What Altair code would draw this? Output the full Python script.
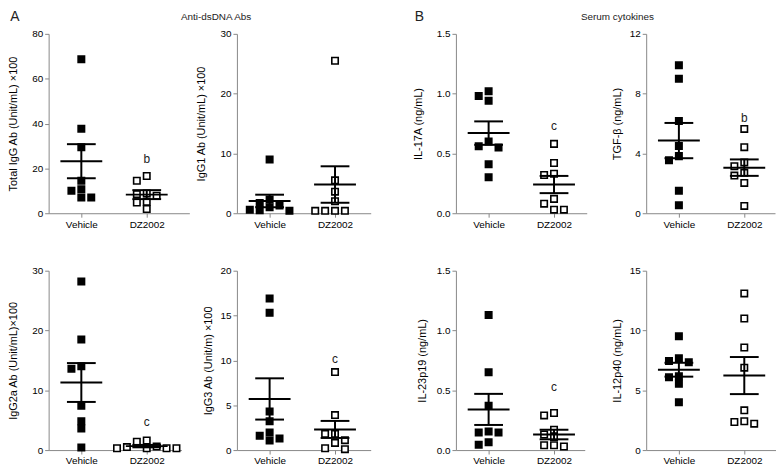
import altair as alt
import pandas as pd
import numpy as np

groups = ["Vehicle", "DZ2002"]

y_titles = ["Total IgG Ab (Unit/mL) ×100", "IgG1 Ab (Unit/mL) ×100",
            "IL-17A (ng/mL)", "TGF-β (ng/mL)",
            "IgG2a Ab (Unit/mL)×100", "IgG3 Ab (Unit/m) ×100",
            "IL-23p19 (ng/mL)", "IL-12p40 (ng/mL)"]
y_max = [80, 30, 1.5, 12, 30, 20, 1.5, 15]
y_step = [20, 10, 0.5, 4, 10, 5, 0.5, 5]

vehicle_vals = [
    [68.7, 37.7, 29.4, 14.5, 10.7, 10.0, 7.0, 7.0],
    [9.0, 2.3, 1.7, 1.3, 1.0, 0.6, 0.5, 0.4],
    [1.02, 0.98, 0.94, 0.60, 0.56, 0.55, 0.41, 0.30],
    [9.9, 9.0, 6.17, 4.49, 3.82, 3.54, 1.5, 0.53],
    [28.2, 18.5, 14.0, 13.6, 7.4, 4.8, 3.6, 0.44],
    [16.9, 15.3, 4.3, 3.2, 1.97, 1.6, 1.3, 1.06],
    [1.13, 0.65, 0.37, 0.155, 0.147, 0.147, 0.066, 0.044],
    [9.52, 7.67, 7.45, 7.34, 6.17, 6.09, 5.54, 3.99],
]
dz_vals = [
    [16.6, 14.5, 8.8, 8.5, 7.8, 5.1, 4.8, 1.9],
    [25.5, 5.5, 3.6, 2.0, 0.4, 0.4, 0.4, 0.4],
    [0.58, 0.42, 0.33, 0.32, 0.12, 0.08, 0.03, 0.03],
    [5.64, 4.42, 3.4, 3.14, 2.7, 2.52, 2.03, 0.49],
    [1.6, 1.4, 0.6, 0.5, 0.3, 0.3, 0.3, 0.3],
    [8.7, 3.9, 1.8, 1.8, 1.1, 0.8, 0.2, 0.1],
    [0.31, 0.29, 0.17, 0.13, 0.11, 0.04, 0.04, 0.03],
    [13.1, 11.0, 8.58, 6.89, 3.32, 2.41, 2.35, 2.21],
]
group_means = [
    [23.2, 8.3], [2.05, 4.8], [0.67, 0.24], [4.86, 3.05],
    [11.3, 0.66], [5.7, 2.3], [0.34, 0.13], [6.72, 6.23],
]
group_sems = [
    [7.6, 2.0], [1.05, 3.05], [0.098, 0.072], [1.18, 0.55],
    [3.25, 0.2], [2.3, 0.95], [0.13, 0.04], [0.58, 1.55],
]
sig_letters = ["b", "", "c", "b", "c", "c", "c", ""]
sig_y = [24.2, 0, 0.73, 6.4, 4.7, 10.2, 0.525, 0]

section_labels = ["A", "B"]
section_titles = ["Anti-dsDNA Abs", "Serum cytokines"]

# ---- layout / style ----
FONT = "Liberation Sans"
H = 181
PX_UNIT = 66.0
LEFT_PX = 33.0
widths = [142, 135, 132, 130, 134, 135, 130, 131]
gap_widths = [48, 86, 60]
title_x = [-35, -36, -38, -29, -35, -29, -34, -29]
MEAN_HALF = 0.32
CAP_HALF = 0.22
NO_FRAME = alt.ViewBackground(stroke="transparent", strokeWidth=0)


def swarm(values, ymax, step_px=10.0, size_px=7.0):
    order = sorted(range(len(values)), key=lambda i: -values[i])
    placed = []
    offs = [0.0] * len(values)
    for i in order:
        ypx = values[i] / ymax * H
        xpx = 0.0
        for k in [0, -1, 1, -2, 2, -3, 3]:
            cand = k * step_px
            if all(not (abs(cand - px) < step_px * 0.95 and abs(ypx - py) < size_px)
                   for px, py in placed):
                xpx = cand
                break
        placed.append((xpx, ypx))
        offs[i] = xpx / PX_UNIT
    return offs


def text_layer(txt, xpx, ypx, size):
    return alt.Chart(pd.DataFrame({"t": [txt]})).mark_text(
        font=FONT, fontSize=size, color="#222", baseline="middle", align="center"
    ).encode(x=alt.value(xpx), y=alt.value(ypx), text="t:N")


def panel(i):
    w = widths[i]
    rows = []
    for gi, vals in enumerate([vehicle_vals[i], dz_vals[i]]):
        offs = swarm(vals, y_max[i])
        for v, o in zip(vals, offs):
            rows.append({"x": gi + o, "y": v, "group": groups[gi]})
    pts_df = pd.DataFrame(rows)

    mean_df = pd.DataFrame({
        "x1": [g - MEAN_HALF for g in range(2)],
        "x2": [g + MEAN_HALF for g in range(2)],
        "y": group_means[i],
    })
    sem_df = pd.DataFrame({
        "x": [0, 1],
        "lo": [m - s for m, s in zip(group_means[i], group_sems[i])],
        "hi": [m + s for m, s in zip(group_means[i], group_sems[i])],
    })
    cap_rows = []
    for g in range(2):
        m, s = group_means[i][g], group_sems[i][g]
        for yv in (m - s, m + s):
            cap_rows.append({"x1": g - CAP_HALF, "x2": g + CAP_HALF, "y": yv})
    cap_df = pd.DataFrame(cap_rows)

    xmax = (w - LEFT_PX) / PX_UNIT
    xscale = alt.Scale(domain=[-LEFT_PX / PX_UNIT, xmax], nice=False, zero=False)
    yscale = alt.Scale(domain=[0, y_max[i]], nice=False, zero=True)
    fmt = ".1f" if y_max[i] < 2 else "d"
    yvals = [float(v) for v in np.round(np.arange(0, y_max[i] + y_step[i] / 2, y_step[i]), 3)]
    label_expr = f"datum.value == 0 ? '{groups[0]}' : '{groups[1]}'"

    xax = alt.Axis(values=[0, 1], labelExpr=label_expr, title=None, grid=False,
                   tickSize=4, labelPadding=2)
    yax = alt.Axis(values=yvals, format=fmt, title=y_titles[i], grid=False,
                   titleX=title_x[i], titleY=H / 2, titleAngle=-90,
                   titleAlign="center", titleBaseline="middle",
                   titleFontWeight="normal", titleFontSize=11, titleFont=FONT,
                   tickSize=4, labelPadding=2)

    pts = alt.Chart(pts_df).mark_point(
        shape="square", size=42, strokeWidth=1.6, opacity=1, filled=False
    ).encode(
        x=alt.X("x:Q", scale=xscale, axis=xax),
        y=alt.Y("y:Q", scale=yscale, axis=yax),
        fill=alt.Fill("group:N", scale=alt.Scale(domain=groups, range=["black", "white"]),
                      legend=None),
        stroke=alt.value("black"),
    )
    means = alt.Chart(mean_df).mark_rule(color="black", strokeWidth=2).encode(
        x=alt.X("x1:Q", scale=xscale), x2="x2:Q", y=alt.Y("y:Q", scale=yscale))
    sems = alt.Chart(sem_df).mark_rule(color="black", strokeWidth=2).encode(
        x=alt.X("x:Q", scale=xscale), y=alt.Y("lo:Q", scale=yscale), y2="hi:Q")
    caps = alt.Chart(cap_df).mark_rule(color="black", strokeWidth=2).encode(
        x=alt.X("x1:Q", scale=xscale), x2="x2:Q", y=alt.Y("y:Q", scale=yscale))
    layers = [pts, means, sems, caps]

    if sig_letters[i]:
        sig_df = pd.DataFrame({"x": [1], "y": [sig_y[i]], "t": [sig_letters[i]]})
        layers.append(alt.Chart(sig_df).mark_text(
            font=FONT, fontSize=12, color="#222", baseline="middle").encode(
            x=alt.X("x:Q", scale=xscale), y=alt.Y("y:Q", scale=yscale), text="t:N"))

    if i == 0:
        layers.append(text_layer(section_labels[0], -34, -17, 14))
    if i == 1:
        layers.append(text_layer(section_titles[0], -21, -17, 10))
    if i == 2:
        layers.append(text_layer(section_labels[1], -37, -17, 14))
    if i == 3:
        layers.append(text_layer(section_titles[1], -29, -17, 10))

    return alt.layer(*layers).properties(width=w, height=H, view=NO_FRAME)


def spacer(w):
    return alt.Chart(pd.DataFrame({"t": [""]})).mark_text().encode(
        x=alt.value(0), y=alt.value(0), text="t:N").properties(
        width=w, height=H, view=NO_FRAME)


p = [panel(i) for i in range(8)]
items = []
for r in range(2):
    for c in range(4):
        items.append(p[r * 4 + c])
        if c < 3:
            items.append(spacer(gap_widths[c]))

chart = alt.concat(*items, columns=7, spacing={"row": 58, "column": 0},
                   bounds="flush").properties(
    padding={"left": 0, "top": 0, "right": 0, "bottom": 0}
).configure_view(stroke="transparent", strokeWidth=0).configure_axis(
    grid=False,
    domainColor="black", domainWidth=1.6, tickColor="black", tickWidth=1.5,
    labelFont=FONT, labelFontSize=12, labelColor="#222",
    titleFont=FONT, titleFontSize=11, titleColor="#222", titleFontWeight="normal",
).configure(background="white")

chart.save("out.html", embed_options={"renderer": "svg", "actions": False})
